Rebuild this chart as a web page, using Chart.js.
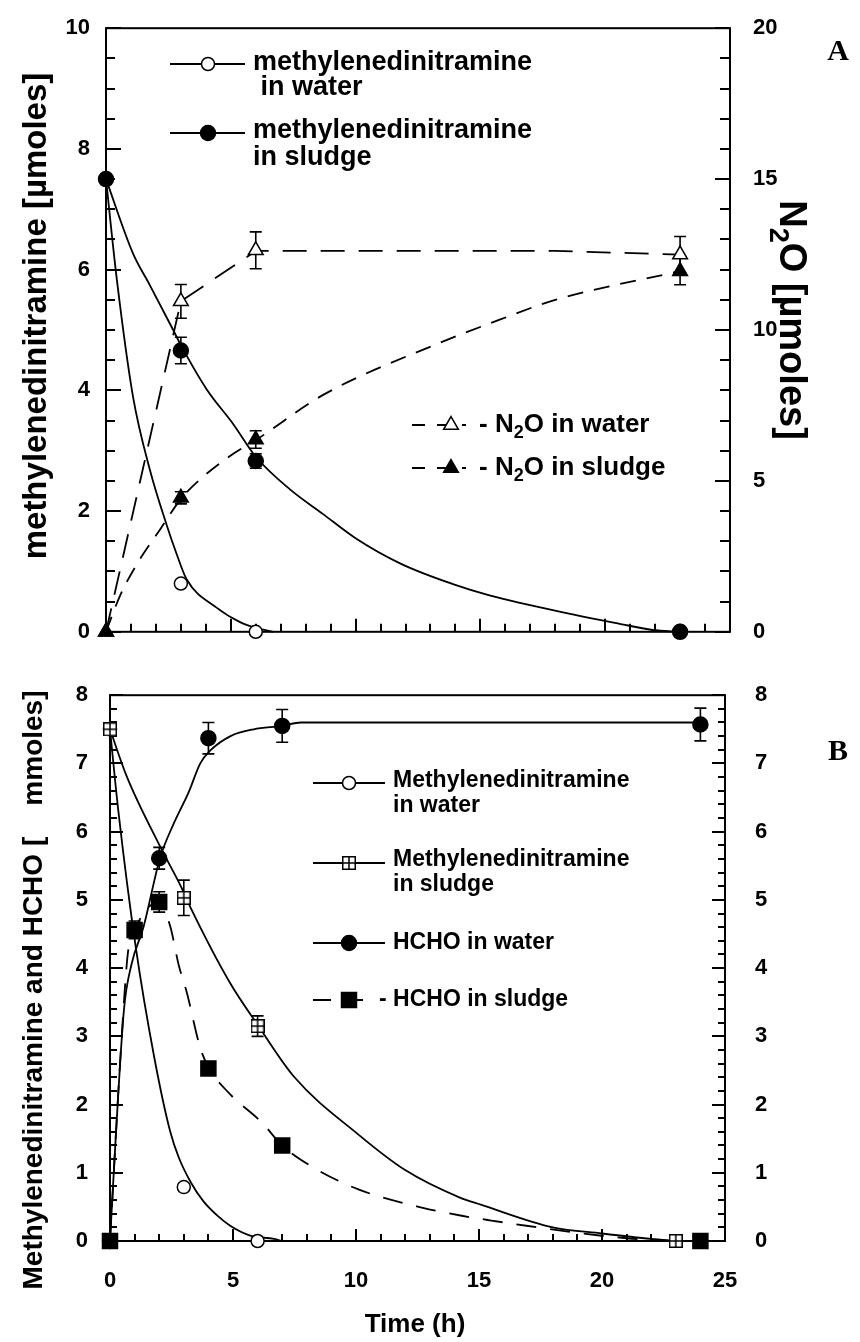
<!DOCTYPE html>
<html>
<head>
<meta charset="utf-8">
<script src="https://cdn.jsdelivr.net/npm/chart.js@4.4.0/dist/chart.umd.min.js"></script>
<style>
  html, body { margin: 0; padding: 0; background: #fff; }
  #wrap { position: relative; width: 860px; height: 1342px; }
  canvas { position: absolute; left: 0; }
  #chartA { top: 0; }
  #chartB { top: 660px; }
</style>
</head>
<body>
<div id="wrap">
  <canvas id="chartA" width="860" height="660"></canvas>
  <canvas id="chartB" width="860" height="682"></canvas>
</div>
<script>
// ---------- panel A: measured points (time in h) ----------
const tMdnWaterA = [0, 3, 6];
const mdnWaterA = [7.5, 0.8, 0];
const mdnWaterAErr = [0, 0.05, 0];

const tMdnSludgeA = [0, 3, 6, 23];
const mdnSludgeA = [7.5, 4.66, 2.83, 0];
const mdnSludgeAErr = [0, 0.22, 0.12, 0];

const tN2oA = [0, 3, 6, 23];
const n2oWaterA = [0, 10.95, 12.64, 12.5];
const n2oWaterAErr = [0, 0.56, 0.61, 0.6];
const n2oSludgeA = [0, 4.44, 6.37, 11.95];
const n2oSludgeAErr = [0, 0.2, 0.29, 0.45];

// ---------- panel A: fitted curves ----------
const tMdnWaterFitA = [0, 0.43, 1.08, 1.76, 2.43, 2.83, 3.23, 4.43, 5.37, 6.04, 6.7];
const mdnWaterFitA = [7.5, 5.85, 3.9, 2.68, 1.77, 1.29, 0.87, 0.4, 0.16, 0.06, 0];
const tMdnSludgeFitA = [0, 1.08, 1.76, 2.63, 3, 4.03, 5.1, 6, 7.37, 8.7, 10, 11.8, 13.9, 15.4, 18.7, 20.5, 21.9, 23];
const mdnSludgeFitA = [7.5, 6.27, 5.74, 5.05, 4.75, 4.02, 3.44, 2.9, 2.36, 1.95, 1.55, 1.13, 0.79, 0.6, 0.29, 0.14, 0.03, 0];
const tN2oWaterFitA = [0, 3, 6, 18, 23];
const n2oWaterFitA = [0, 10.95, 12.62, 12.62, 12.5];
const tN2oSludgeFitA = [0, 0.56, 1.28, 2.16, 3, 3.77, 5.1, 6, 8.7, 13.3, 15.8, 18, 23];
const n2oSludgeFitA = [0, 1.19, 2.3, 3.38, 4.4, 5.05, 5.9, 6.35, 7.85, 9.55, 10.35, 11.0, 11.95];

// ---------- panel B: measured points ----------
const tMdnWaterB = [0, 3, 6];
const mdnWaterB = [7.5, 0.79, 0];
const mdnWaterBErr = [0, 0.05, 0];
const tMdnSludgeB = [0, 3, 6, 23];
const mdnSludgeB = [7.5, 5.03, 3.15, 0];
const mdnSludgeBErr = [0, 0.26, 0.15, 0];
const tHchoWaterB = [0, 2, 4, 7, 24];
const hchoWaterB = [0, 5.61, 7.37, 7.55, 7.57];
const hchoWaterBErr = [0, 0.16, 0.23, 0.24, 0.24];
const tHchoSludgeB = [0, 1, 2, 4, 7, 24];
const hchoSludgeB = [0, 4.56, 4.97, 2.53, 1.4, 0];
const hchoSludgeBErr = [0, 0.13, 0.15, 0, 0, 0];

// ---------- panel B: fitted curves ----------
const tMdnWaterFitB = [0, 0.34, 1.05, 1.8, 2.45, 2.8, 3.3, 3.8, 4.4, 4.9, 5.7, 6.67, 7];
const mdnWaterFitB = [7.5, 6.3, 4.3, 2.69, 1.6, 1.22, 0.85, 0.58, 0.36, 0.22, 0.08, 0.03, 0];
const tMdnSludgeFitB = [0, 0.68, 2.04, 2.92, 3.27, 4.9, 6, 7.5, 10.1, 12, 14.2, 15.1, 18, 20, 22, 23];
const mdnSludgeFitB = [7.5, 6.81, 5.78, 5.17, 4.89, 3.77, 3.17, 2.4, 1.56, 1.04, 0.64, 0.53, 0.2, 0.11, 0.03, 0];
const tHchoWaterFitB = [0, 0.23, 0.57, 0.87, 1.36, 2.04, 2.58, 3.2, 3.67, 4.08, 4.9, 5.84, 7, 7.76, 24];
const hchoWaterFitB = [0, 1.5, 3.4, 4.05, 4.6, 5.62, 6.11, 6.58, 7.0, 7.19, 7.4, 7.5, 7.55, 7.6, 7.6];
const tHchoSludgeFitB = [0, 0.44, 0.73, 1, 2, 2.45, 2.79, 3.13, 3.67, 4, 4.83, 6.19, 7, 8.16, 10.07, 12.8, 14.3, 15.5, 17, 19, 21, 23];
const hchoSludgeFitB = [0, 2.79, 4.23, 4.56, 4.97, 4.61, 4.05, 3.63, 2.83, 2.55, 2.17, 1.73, 1.4, 1.1, 0.76, 0.48, 0.37, 0.3, 0.22, 0.12, 0.04, 0];

// ---------- tick labels ----------
const timeTicks = [0, 5, 10, 15, 20, 25];
const leftTicksA = [0, 2, 4, 6, 8, 10];
const rightTicksA = [0, 5, 10, 15, 20];
const ticksB = [0, 1, 2, 3, 4, 5, 6, 7, 8];

const FONT = '"Liberation Sans", Arial, sans-serif';
const pts = (xs, ys) => xs.map((x, i) => ({ x, y: ys[i] }));

// open square with a cross inside, used as a point style
function crossSquare(size) {
    const c = document.createElement('canvas');
    c.width = c.height = size;
    const g = c.getContext('2d');
    g.fillStyle = '#fff';
    g.fillRect(0, 0, size, size);
    g.strokeStyle = '#000';
    g.lineWidth = 1.5;
    g.strokeRect(0.75, 0.75, size - 1.5, size - 1.5);
    g.beginPath();
    g.moveTo(size / 2, 1); g.lineTo(size / 2, size - 1);
    g.moveTo(1, size / 2); g.lineTo(size - 1, size / 2);
    g.stroke();
    return c;
}
const crossSq = crossSquare(14);

// lower order is drawn on top
function marker(style, radius, filled, extra) {
    return Object.assign({
        showLine: false,
        pointStyle: style,
        pointRadius: radius,
        pointHoverRadius: radius,
        pointBackgroundColor: filled ? '#000' : '#fff',
        pointBorderColor: '#000',
        pointBorderWidth: 1.5,
        borderColor: '#000',
        clip: false,
        order: filled ? 0 : 0.5
    }, extra);
}

function fit(data, extra) {
    return Object.assign({
        data: data,
        pointRadius: 0,
        borderColor: '#000',
        borderWidth: 1.8,
        cubicInterpolationMode: 'monotone',
        clip: false,
        order: 1
    }, extra);
}

// rich text: renders the 2 of N2O as a subscript
function richText(ctx, text, x, y, size, align) {
    const parts = [];
    text.split('N2O').forEach((p, i) => {
        if (i) parts.push(['N', 0], ['2', 1], ['O', 0]);
        if (p) parts.push([p, 0]);
    });
    const big = `bold ${size}px ${FONT}`;
    const small = `bold ${Math.round(size * 0.7)}px ${FONT}`;
    let w = 0;
    parts.forEach(([t, s]) => { ctx.font = s ? small : big; w += ctx.measureText(t).width; });
    let cx = align === 'center' ? x - w / 2 : x;
    ctx.textAlign = 'left';
    ctx.textBaseline = 'middle';
    ctx.fillStyle = '#000';
    parts.forEach(([t, s]) => {
        ctx.font = s ? small : big;
        ctx.fillText(t, cx, s ? y + size * 0.32 : y);
        cx += ctx.measureText(t).width;
    });
}

function rotatedText(ctx, text, x, y, size, angle) {
    ctx.save();
    ctx.translate(x, y);
    ctx.rotate(angle);
    richText(ctx, text, 0, 0, size, 'center');
    ctx.restore();
}

function legendItem(ctx, ds, o) {
    ctx.save();
    ctx.strokeStyle = '#000';
    ctx.lineWidth = 1.8;
    ctx.setLineDash(o.dash || []);
    ctx.beginPath();
    ctx.moveTo(o.x1, o.y);
    ctx.lineTo(o.x2, o.y);
    ctx.stroke();
    ctx.setLineDash([]);
    ctx.fillStyle = ds.pointBackgroundColor;
    ctx.strokeStyle = ds.pointBorderColor;
    ctx.lineWidth = ds.pointBorderWidth;
    Chart.helpers.drawPoint(ctx, {
        pointStyle: ds.pointStyle, radius: ds.pointRadius, rotation: 0, borderWidth: ds.pointBorderWidth
    }, o.mx, o.y);
    ctx.restore();
    ds.label.split('\n').forEach((line, i) => {
        richText(ctx, line, o.tx, o.ty[i], o.size, 'left');
    });
}

const errorBars = {
    id: 'errorBars',
    beforeDatasetsDraw(chart) {
        const ctx = chart.ctx;
        ctx.save();
        ctx.strokeStyle = '#000';
        ctx.lineWidth = 1.6;
        chart.data.datasets.forEach(ds => {
            if (!ds.errors) return;
            const xs = chart.scales.x, ys = chart.scales[ds.yAxisID];
            ds.data.forEach((p, j) => {
                const e = ds.errors[j];
                if (!e) return;
                const x = xs.getPixelForValue(p.x);
                const y1 = ys.getPixelForValue(p.y - e);
                const y2 = ys.getPixelForValue(p.y + e);
                ctx.beginPath();
                ctx.moveTo(x, y1); ctx.lineTo(x, y2);
                ctx.moveTo(x - 6, y1); ctx.lineTo(x + 6, y1);
                ctx.moveTo(x - 6, y2); ctx.lineTo(x + 6, y2);
                ctx.stroke();
            });
        });
        ctx.restore();
    }
};

// box around the plot with inward major / minor ticks
function axisFrame(spec) {
    return {
        id: 'axisFrame',
        beforeDatasetsDraw(chart) {
            const { ctx, chartArea: a } = chart;
            ctx.save();
            ctx.strokeStyle = '#000';
            ctx.lineWidth = 2;
            ctx.strokeRect(a.left, a.top, a.right - a.left, a.bottom - a.top);
            spec.forEach(ax => {
                const s = chart.scales[ax.scale];
                const n = Math.round((s.max - s.min) / ax.minor);
                for (let i = 0; i <= n; i++) {
                    const v = s.min + i * ax.minor;
                    const r = v / ax.major;
                    const len = Math.abs(r - Math.round(r)) < 1e-6 ? ax.majorLen : ax.minorLen;
                    const p = Math.round(s.getPixelForValue(v));
                    ctx.beginPath();
                    if (ax.side === 'bottom') { ctx.moveTo(p, a.bottom); ctx.lineTo(p, a.bottom - len); }
                    else if (ax.side === 'left') { ctx.moveTo(a.left, p); ctx.lineTo(a.left + len, p); }
                    else { ctx.moveTo(a.right, p); ctx.lineTo(a.right - len, p); }
                    ctx.stroke();
                }
            });
            ctx.restore();
        }
    };
}

function annotations(draw) {
    return { id: 'annotations', afterDraw(chart) { draw(chart.ctx, chart); } };
}

const tickFont = { family: FONT, size: 22, weight: 'bold' };
const setTicks = arr => s => { s.ticks = arr.map(v => ({ value: v })); };

// ================= panel A =================
const dsA = [
    marker('circle', 6.5, false, { label: 'methylenedinitramine\n in water', data: pts(tMdnWaterA, mdnWaterA), errors: mdnWaterAErr, yAxisID: 'y' }),
    marker('circle', 7.5, true, { label: 'methylenedinitramine\nin sludge', data: pts(tMdnSludgeA, mdnSludgeA), errors: mdnSludgeAErr, yAxisID: 'y' }),
    marker('triangle', 8.5, false, { label: 'N2O in water', data: pts(tN2oA, n2oWaterA), errors: n2oWaterAErr, yAxisID: 'y2' }),
    marker('triangle', 8.5, true, { label: 'N2O in sludge', data: pts(tN2oA, n2oSludgeA), errors: n2oSludgeAErr, yAxisID: 'y2' }),
    fit(pts(tMdnWaterFitA, mdnWaterFitA), { yAxisID: 'y' }),
    fit(pts(tMdnSludgeFitA, mdnSludgeFitA), { yAxisID: 'y' }),
    fit(pts(tN2oWaterFitA, n2oWaterFitA), { yAxisID: 'y2', borderDash: [24, 14], cubicInterpolationMode: 'default', tension: 0 }),
    fit(pts(tN2oSludgeFitA, n2oSludgeFitA), { yAxisID: 'y2', borderDash: [16, 11] })
];

new Chart(document.getElementById('chartA'), {
    type: 'line',
    data: { datasets: dsA },
    options: {
        responsive: false,
        animation: false,
        layout: { padding: { top: 25, bottom: 13, left: 0, right: 0 } },
        plugins: { legend: { display: false }, tooltip: { enabled: false } },
        scales: {
            x: { type: 'linear', min: 0, max: 25, display: false },
            y: {
                type: 'linear', position: 'left', min: 0, max: 10,
                afterBuildTicks: setTicks(leftTicksA),
                ticks: { padding: 8, color: '#000', font: tickFont },
                grid: { display: false }, border: { display: false },
                afterFit: s => { s.width = 106; }
            },
            y2: {
                type: 'linear', position: 'right', min: 0, max: 20,
                afterBuildTicks: setTicks(rightTicksA),
                ticks: { padding: 15, color: '#000', font: tickFont },
                grid: { display: false }, border: { display: false },
                afterFit: s => { s.width = 130; }
            }
        }
    },
    plugins: [
        axisFrame([
            { scale: 'x', side: 'bottom', major: 5, minor: 1, majorLen: 13, minorLen: 8 },
            { scale: 'y', side: 'left', major: 2, minor: 0.5, majorLen: 15, minorLen: 9 },
            { scale: 'y2', side: 'right', major: 5, minor: 1, majorLen: 15, minorLen: 10 }
        ]),
        errorBars,
        annotations((ctx, chart) => {
            const ds = chart.data.datasets;
            legendItem(ctx, ds[0], { x1: 170, x2: 245, y: 64, mx: 208, tx: 253, ty: [63, 88], size: 27 });
            legendItem(ctx, ds[1], { x1: 170, x2: 245, y: 133, mx: 208, tx: 253, ty: [131, 158], size: 27 });
            legendItem(ctx, ds[2], { x1: 412, x2: 466, y: 425, mx: 451, tx: 495, ty: [425], size: 26, dash: [13, 12] });
            legendItem(ctx, ds[3], { x1: 412, x2: 466, y: 468, mx: 451, tx: 495, ty: [468], size: 26, dash: [13, 12] });
            // hyphens in front of the N2O entries
            richText(ctx, '-', 479, 425, 26, 'left');
            richText(ctx, '-', 479, 468, 26, 'left');
            rotatedText(ctx, 'methylenedinitramine [µmoles]', 37, 316, 33, -Math.PI / 2);
            rotatedText(ctx, 'N2O [µmoles]', 790, 320, 38, Math.PI / 2);
            ctx.font = 'bold 30px "Liberation Serif", "Times New Roman", serif';
            ctx.textAlign = 'center';
            ctx.textBaseline = 'middle';
            ctx.fillText('A', 838, 52);
        })
    ]
});

// ================= panel B =================
const dsB = [
    marker('circle', 6.5, false, { label: 'Methylenedinitramine\nin water', data: pts(tMdnWaterB, mdnWaterB), errors: mdnWaterBErr, yAxisID: 'y', order: 0.3 }),
    marker(crossSq, 7, false, { label: 'Methylenedinitramine\nin sludge', data: pts(tMdnSludgeB, mdnSludgeB), errors: mdnSludgeBErr, yAxisID: 'y', order: 0.1 }),
    marker('circle', 7.5, true, { label: 'HCHO in water', data: pts(tHchoWaterB, hchoWaterB), errors: hchoWaterBErr, yAxisID: 'y', order: 0.2 }),
    marker('rect', 10.6, true, { label: '- HCHO in sludge', data: pts(tHchoSludgeB, hchoSludgeB), errors: hchoSludgeBErr, yAxisID: 'y', order: 0 }),
    fit(pts(tMdnWaterFitB, mdnWaterFitB), { yAxisID: 'y' }),
    fit(pts(tMdnSludgeFitB, mdnSludgeFitB), { yAxisID: 'y' }),
    fit(pts(tHchoWaterFitB, hchoWaterFitB), { yAxisID: 'y' }),
    fit(pts(tHchoSludgeFitB, hchoSludgeFitB), { yAxisID: 'y', borderDash: [20, 14] })
];

new Chart(document.getElementById('chartB'), {
    type: 'line',
    data: { datasets: dsB },
    options: {
        responsive: false,
        animation: false,
        layout: { padding: { top: 12, bottom: 0, left: 0, right: 0 } },
        plugins: { legend: { display: false }, tooltip: { enabled: false } },
        scales: {
            x: {
                type: 'linear', min: 0, max: 25,
                afterBuildTicks: setTicks(timeTicks),
                ticks: { padding: 19, color: '#000', font: tickFont },
                grid: { display: false }, border: { display: false },
                afterFit: s => { s.height = 101; }
            },
            y: {
                type: 'linear', position: 'left', min: 0, max: 8,
                afterBuildTicks: setTicks(ticksB),
                ticks: { padding: 14, color: '#000', font: tickFont },
                grid: { display: false }, border: { display: false },
                afterFit: s => { s.width = 110; }
            },
            y2: {
                type: 'linear', position: 'right', min: 0, max: 8,
                afterBuildTicks: setTicks(ticksB),
                ticks: { padding: 22, color: '#000', font: tickFont },
                grid: { display: false }, border: { display: false },
                afterFit: s => { s.width = 135; }
            }
        }
    },
    plugins: [
        axisFrame([
            { scale: 'x', side: 'bottom', major: 5, minor: 1, majorLen: 12, minorLen: 7 },
            { scale: 'y', side: 'left', major: 1, minor: 0.2, majorLen: 13, minorLen: 7 },
            { scale: 'y2', side: 'right', major: 1, minor: 0.2, majorLen: 13, minorLen: 7 }
        ]),
        errorBars,
        annotations((ctx, chart) => {
            const ds = chart.data.datasets;
            legendItem(ctx, ds[0], { x1: 313, x2: 385, y: 123, mx: 349, tx: 393, ty: [121, 146], size: 23 });
            legendItem(ctx, ds[1], { x1: 313, x2: 385, y: 203, mx: 349, tx: 393, ty: [200, 225], size: 23 });
            legendItem(ctx, ds[2], { x1: 313, x2: 385, y: 283, mx: 349, tx: 393, ty: [283], size: 23 });
            legendItem(ctx, ds[3], { x1: 313, x2: 366, y: 340, mx: 349, tx: 379, ty: [340], size: 23, dash: [18, 14] });
            rotatedText(ctx, 'Methylenedinitramine and HCHO [    mmoles]', 34, 330, 28, -Math.PI / 2);
            richText(ctx, 'Time (h)', 415, 665, 26, 'center');
            ctx.font = 'bold 30px "Liberation Serif", "Times New Roman", serif';
            ctx.textAlign = 'center';
            ctx.textBaseline = 'middle';
            ctx.fillText('B', 838, 92);
        })
    ]
});
</script>
</body>
</html>
